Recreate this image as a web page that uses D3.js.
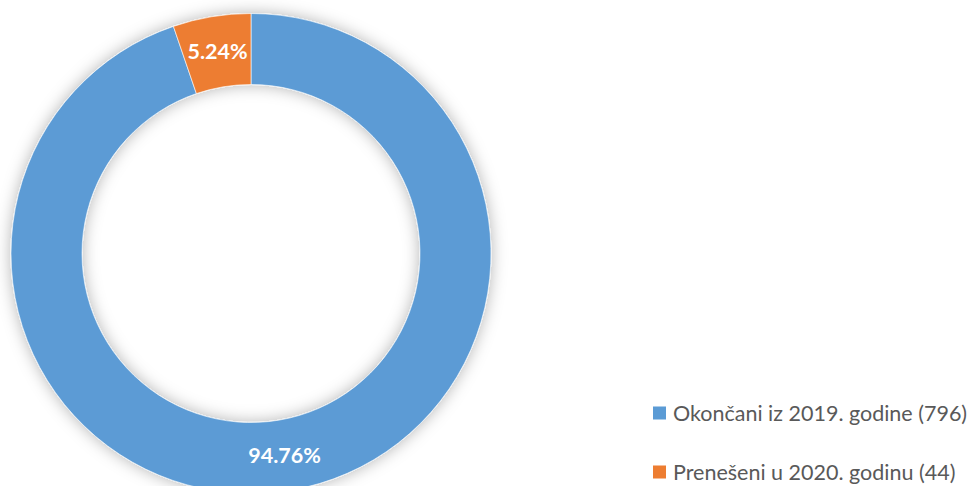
<!DOCTYPE html>
<html><head><meta charset="utf-8">
<script src="https://cdn.jsdelivr.net/npm/d3@7"></script>
<style>body{margin:0;background:#fff;}svg{display:block;}</style>
</head><body>
<svg id="c" width="973" height="486"></svg>
<script>
const categories = ["Okončani iz 2019. godine (796)", "Prenešeni u 2020. godinu (44)"];
const values = [796, 44];
const percentLabels = ["94.76%", "5.24%"];
const colors = ["#5B9BD5", "#ED7D31"];

const svg = d3.select("#c");
const cx = 251, cy = 253.5, rOuter = 240, rInner = 169;

const defs = svg.append("defs");
const f = defs.append("filter").attr("id","glow").attr("x","-20%").attr("y","-20%").attr("width","140%").attr("height","140%");
f.append("feGaussianBlur").attr("in","SourceAlpha").attr("stdDeviation",8).attr("result","b");
f.append("feFlood").attr("flood-color","#000").attr("flood-opacity",0.3).attr("result","c");
f.append("feComposite").attr("in","c").attr("in2","b").attr("operator","in").attr("result","s");
const m = f.append("feMerge");
m.append("feMergeNode").attr("in","s");
m.append("feMergeNode").attr("in","SourceGraphic");

const pie = d3.pie().sort(null).value(d => d)(values);
const arc = d3.arc().innerRadius(rInner).outerRadius(rOuter);
const labelArc = d3.arc().innerRadius((rInner+rOuter)/2).outerRadius((rInner+rOuter)/2);

const g = svg.append("g").attr("transform", `translate(${cx},${cy})`);
g.append("g").attr("filter","url(#glow)").selectAll("path").data(pie).join("path")
  .attr("d", arc).attr("fill", (d,i) => colors[i])
  .attr("stroke","#fff").attr("stroke-width",0.6);

g.selectAll("text.lbl").data(pie).join("text").attr("class","lbl")
  .attr("transform", d => `translate(${labelArc.centroid(d)})`)
  .attr("text-anchor","middle").attr("dy","0.35em")
  .attr("font-family","Lato, 'Open Sans', sans-serif").attr("font-weight","bold")
  .attr("font-size",21.5).attr("fill","#fff")
  .text((d,i) => percentLabels[i]);

const legend = svg.append("g").attr("transform","translate(653,0)");
const ly = [413, 472];
categories.forEach((c,i) => {
  legend.append("rect").attr("x",0).attr("y",ly[i]-6.5).attr("width",13).attr("height",13).attr("fill",colors[i]);
  legend.append("text").attr("x",20).attr("y",ly[i]).attr("dy","0.36em")
    .attr("font-family","Lato, 'Open Sans', sans-serif").attr("font-size",21.5).attr("fill","#595959")
    .text(c);
});
</script>
</body></html>
